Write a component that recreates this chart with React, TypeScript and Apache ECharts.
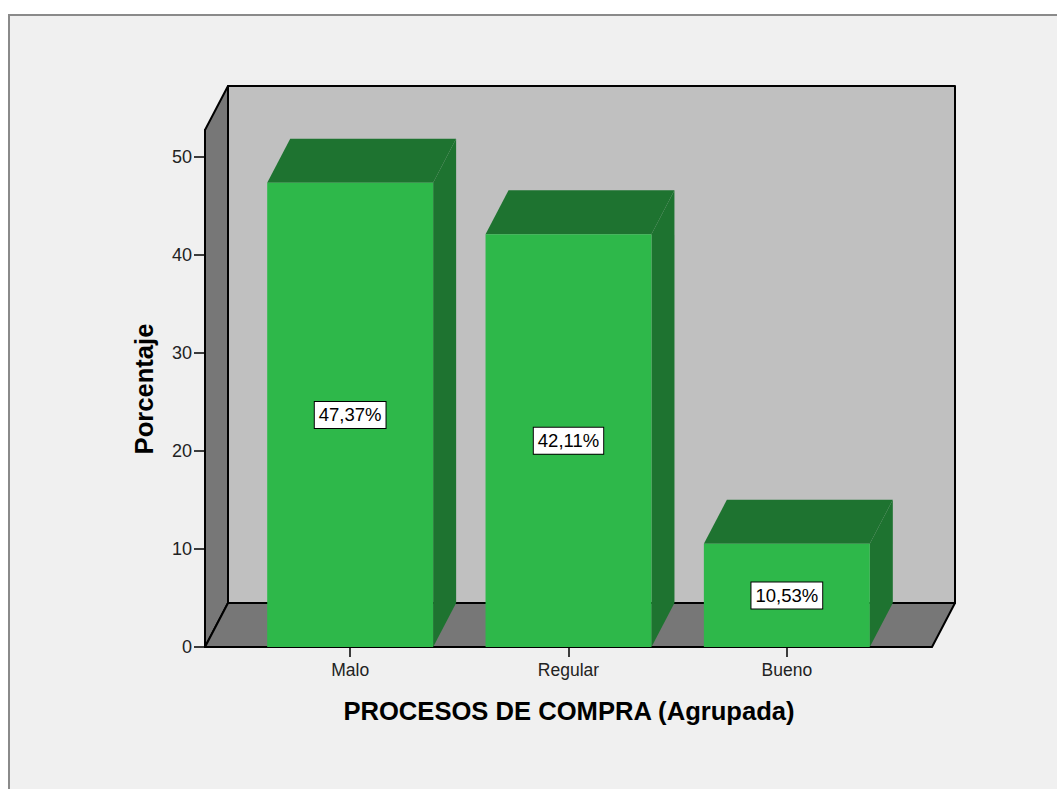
import React, { useEffect, useRef } from "react";
import * as echarts from "echarts";

// Category labels and percentage values
const categories = ["Malo", "Regular", "Bueno"];
const percentages = [47.37, 42.11, 10.53];
const yTickValues = [0, 10, 20, 30, 40, 50];
const yAxisMax = 52.76;
const xAxisTitle = "PROCESOS DE COMPRA (Agrupada)";
const yAxisTitle = "Porcentaje";

const FONT = '"Liberation Sans", Arial, Helvetica, sans-serif';
const DEPTH_X = 23; // 3D depth offset (px)
const DEPTH_Y = 44;
const SIDE_PAD = 36; // distance from grid edge to the front edge of the box
const BAR_RATIO = 0.76;

const COL_FRONT = "#2eb84a";
const COL_DARK = "#1e7330";
const COL_BACK = "#c0c0c0";
const COL_WALL = "#777777";

const formatPct = (v: number) => v.toFixed(2).replace(".", ",") + "%";

export default function App() {
  const ref = useRef<HTMLDivElement>(null);

  useEffect(() => {
    if (!ref.current) return;
    const chart = echarts.init(ref.current, null, { renderer: "svg" });

    // Back wall, left side wall and floor of the 3D box
    const wallsRender = (params: any, api: any) => {
      const cs = params.coordSys;
      const y0 = api.coord([0, 0])[1];
      const yTop = cs.y;
      const xl = cs.x - SIDE_PAD;
      const xr = cs.x + cs.width + SIDE_PAD;
      const line = { stroke: "#000", lineWidth: 2, lineJoin: "round" };
      return {
        type: "group",
        children: [
          {
            type: "polygon",
            shape: {
              points: [
                [xl + DEPTH_X, yTop - DEPTH_Y],
                [xr + DEPTH_X, yTop - DEPTH_Y],
                [xr + DEPTH_X, y0 - DEPTH_Y],
                [xl + DEPTH_X, y0 - DEPTH_Y],
              ],
            },
            style: { fill: COL_BACK, ...line },
          },
          {
            type: "polygon",
            shape: {
              points: [
                [xl, y0],
                [xl, yTop],
                [xl + DEPTH_X, yTop - DEPTH_Y],
                [xl + DEPTH_X, y0 - DEPTH_Y],
              ],
            },
            style: { fill: COL_WALL, ...line },
          },
          {
            type: "polygon",
            shape: {
              points: [
                [xl, y0],
                [xl + DEPTH_X, y0 - DEPTH_Y],
                [xr + DEPTH_X, y0 - DEPTH_Y],
                [xr, y0],
              ],
            },
            style: { fill: COL_WALL, ...line },
          },
        ],
      };
    };

    // 3D bars: side face, top face, front face and a boxed value label
    const barsRender = (params: any, api: any) => {
      const idx = api.value(0);
      const val = api.value(1);
      const [cx, top] = api.coord([idx, val]);
      const base = api.coord([idx, 0])[1];
      const w = api.size([1, 0])[0] * BAR_RATIO;
      const l = cx - w / 2;
      const r = cx + w / 2;
      return {
        type: "group",
        children: [
          {
            type: "polygon",
            shape: {
              points: [
                [r, top],
                [r + DEPTH_X, top - DEPTH_Y],
                [r + DEPTH_X, base - DEPTH_Y],
                [r, base],
              ],
            },
            style: { fill: COL_DARK },
          },
          {
            type: "polygon",
            shape: {
              points: [
                [l, top],
                [l + DEPTH_X, top - DEPTH_Y],
                [r + DEPTH_X, top - DEPTH_Y],
                [r, top],
              ],
            },
            style: { fill: COL_DARK },
          },
          {
            type: "rect",
            shape: { x: l, y: top, width: w, height: base - top },
            style: { fill: COL_FRONT },
          },
          {
            type: "text",
            x: cx,
            y: (top + base) / 2,
            style: {
              text: formatPct(val),
              fontFamily: FONT,
              fontSize: 18.5,
              fill: "#000",
              align: "center",
              verticalAlign: "middle",
              backgroundColor: "#fff",
              borderColor: "#000",
              borderWidth: 1,
              padding: [4, 4, 3, 4],
            },
          },
        ],
      };
    };

    chart.setOption({
      animation: false,
      backgroundColor: "#ffffff",
      grid: { left: 241, right: 161, top: 130, bottom: 142 },
      xAxis: {
        type: "category",
        data: categories,
        boundaryGap: true,
        axisLine: { show: false },
        axisTick: {
          show: true,
          alignWithLabel: true,
          length: 10,
          lineStyle: { color: "#000", width: 1.5 },
        },
        axisLabel: {
          margin: 14,
          fontFamily: FONT,
          fontSize: 17.5,
          color: "#222",
        },
      },
      yAxis: {
        type: "value",
        min: 0,
        max: yAxisMax,
        interval: 10,
        offset: SIDE_PAD,
        splitLine: { show: false },
        axisLine: { show: true, lineStyle: { color: "#000", width: 2 } },
        axisTick: {
          show: true,
          length: 11,
          customValues: yTickValues,
          lineStyle: { color: "#000", width: 1.5 },
        },
        axisLabel: {
          margin: 13,
          customValues: yTickValues,
          fontFamily: FONT,
          fontSize: 18,
          color: "#222",
        },
      },
      graphic: [
        {
          type: "rect",
          z: -10,
          silent: true,
          shape: { x: 9, y: 15, width: 1100, height: 900 },
          style: { fill: "#f0f0f0", stroke: "#8a8a8a", lineWidth: 2 },
        },
        {
          type: "text",
          x: 569,
          y: 711,
          style: {
            text: xAxisTitle,
            fontFamily: FONT,
            fontSize: 25.6,
            fontWeight: "bold",
            fill: "#000",
            align: "center",
            verticalAlign: "middle",
          },
        },
        {
          type: "text",
          x: 144,
          y: 389,
          rotation: Math.PI / 2,
          style: {
            text: yAxisTitle,
            fontFamily: FONT,
            fontSize: 25.6,
            fontWeight: "bold",
            fill: "#000",
            align: "center",
            verticalAlign: "middle",
          },
        },
      ],
      series: [
        {
          type: "custom",
          z: 1,
          clip: false,
          silent: true,
          renderItem: wallsRender,
          data: [[0, 0]],
        },
        {
          type: "custom",
          z: 2,
          clip: false,
          silent: true,
          renderItem: barsRender,
          data: percentages.map((v, i) => [i, v]),
        },
      ],
    });

    return () => chart.dispose();
  }, []);

  return (
    <div
      ref={ref}
      style={{ position: "fixed", left: 0, top: 0, width: 1057, height: 789 }}
    />
  );
}
